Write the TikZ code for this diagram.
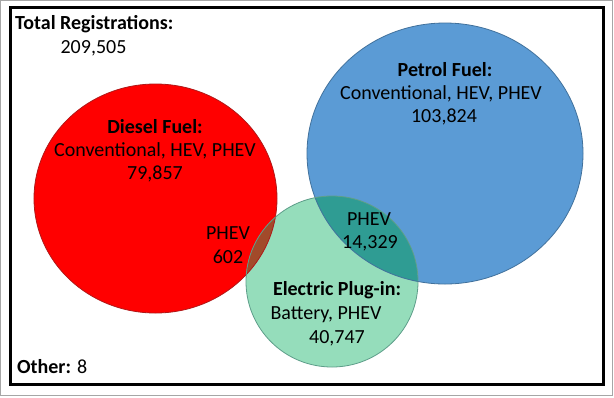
\documentclass[tikz,border=0pt]{standalone}
\usepackage{fontspec}
\setmainfont{Carlito}
\definecolor{dieselred}{HTML}{FF0000}
\definecolor{dieseledge}{HTML}{B01818}
\definecolor{petrolblue}{HTML}{5B9BD5}
\definecolor{petroledge}{HTML}{41719C}
\definecolor{elecgreen}{HTML}{95DDBB}
\definecolor{elecedge}{HTML}{5E9E8A}
\definecolor{tealmix}{HTML}{2F9C93}
\definecolor{brownmix}{HTML}{A24A2A}
\begin{document}
\begin{tikzpicture}[x=1bp,y=-1bp,
  lbl/.style={font=\fontsize{20bp}{24bp}\selectfont, inner sep=0pt, text=black},
  bold/.style={lbl, font=\fontsize{20bp}{24bp}\selectfont\bfseries},
  frame/.style={line width=3bp, draw=black}]
\useasboundingbox (0,0) rectangle (614,397);
\fill[white] (0,0) rectangle (614,397);
\draw[gray!70, line width=1bp] (0.5,0.5) rectangle (612.5,395.5);
\draw[frame] (10,7) rectangle (603,384);
% circles
\def\dieselC{(155.5,198.5) ellipse [x radius=121.5bp, y radius=114.5bp]}
\def\petrolC{(445,153.5) ellipse [x radius=138bp, y radius=130.5bp]}
\def\elecC{(332,281.5) ellipse [x radius=86bp, y radius=85.5bp]}
\fill[dieselred] \dieselC;
\fill[petrolblue] \petrolC;
\fill[elecgreen] \elecC;
\begin{scope}
  \clip \dieselC;
  \fill[brownmix] \elecC;
\end{scope}
\begin{scope}
  \clip \petrolC;
  \fill[tealmix] \elecC;
\end{scope}
\draw[dieseledge, line width=0.8bp] \dieselC;
\draw[petroledge, line width=0.8bp] \petrolC;
\draw[elecedge, line width=0.8bp] \elecC;
% texts
\node[bold, anchor=west] (total) at (15,24) {Total Registrations:};
\node[lbl] (totaln) at (93.5,48) {209,505};
\node[bold] (dieselt) at (155,127) {Diesel Fuel:};
\node[lbl] (dieselk) at (155,150.5) {Conventional, HEV, PHEV};
\node[lbl] (dieseln) at (155,174) {79,857};
\node[lbl] (dphev) at (228,233) {PHEV};
\node[lbl] (dphevn) at (228,257) {602};
\node[bold] (petrolt) at (445,70) {Petrol Fuel:};
\node[lbl] (petrolk) at (441,93.5) {Conventional, HEV, PHEV};
\node[lbl] (petroln) at (444,117) {103,824};
\node[lbl] (pphev) at (369,219) {PHEV};
\node[lbl] (pphevn) at (370,243) {14,329};
\node[bold] (elect) at (337,290) {Electric Plug-in:};
\node[lbl] (eleck) at (326,314.5) {Battery, PHEV};
\node[lbl] (elecn) at (337,338) {40,747};
\node[lbl, anchor=west] (other) at (17,367) {\textbf{Other:} 8};
\end{tikzpicture}
\end{document}
